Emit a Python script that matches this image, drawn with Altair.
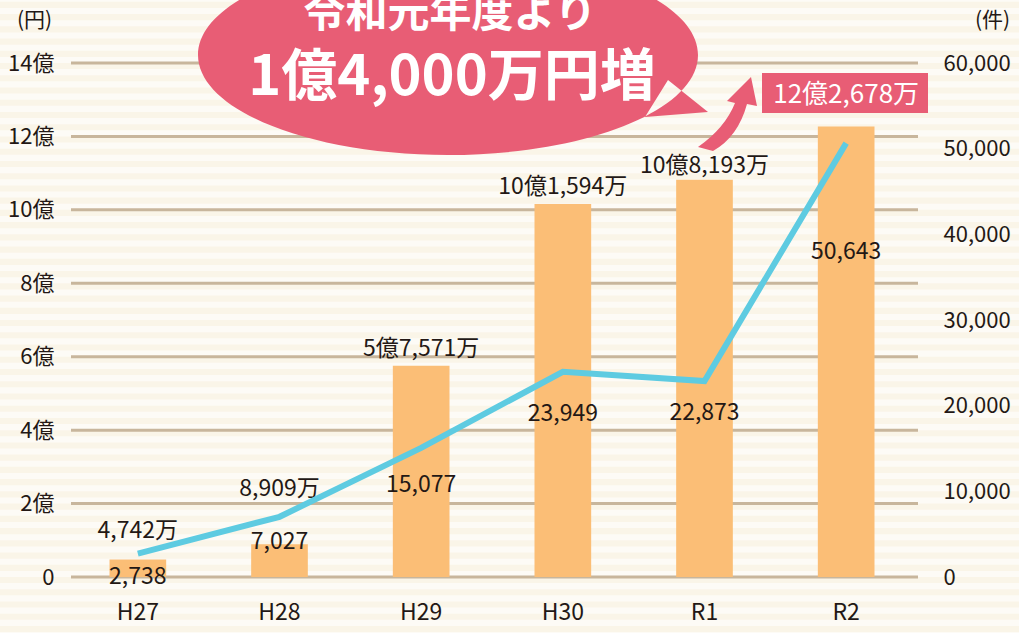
import altair as alt
import pandas as pd

# ---- data ----
years = ["H27", "H28", "H29", "H30", "R1", "R2"]
amount_oku = [0.4742, 0.8909, 5.7571, 10.1594, 10.8193, 12.2678]   # 億円
cases = [2738, 7027, 15077, 23949, 22873, 50643]                   # 件
bar_label_offset = [-29, -55, -17, -17, -14, -32]                   # px (negative = up)
line_label_offset = [23, 25, 37, 42, 32, 109]                       # px (positive = down)

left_ticks = [0, 2, 4, 6, 8, 10, 12, 14]
right_ticks = [0, 10000, 20000, 30000, 40000, 50000, 60000]

bubble_line1 = "令和元年度より"
bubble_line2 = "1億4,000万円増"

FONT = "Noto Sans CJK JP"
TXT = "#231815"
PINK = "#e85d75"
OX = 67  # plot origin x in page pixels
H = 577
FS = 23

LMAX = 14 * H / 514
RMAX = 60000 * H / 514


def oku_label(v):
    man = round(v * 10000)
    oku, rest = divmod(man, 10000)
    return f"{oku}億{rest:,}万" if oku else f"{rest:,}万"


df = pd.DataFrame({
    "year": years,
    "amount": amount_oku,
    "cases": cases,
    "blabel": [oku_label(v) for v in amount_oku],
    "boff": bar_label_offset,
    "llabel": [f"{c:,}" for c in cases],
    "loff": line_label_offset,
})

stripes = pd.DataFrame({"y0": [k / 3 for k in range(-9, 52)]})
stripes["y1"] = stripes["y0"] + 1 / 6
grid = pd.DataFrame({"v": left_ticks})
one = pd.DataFrame({"a": [0]})

xenc = alt.X("year:N", sort=years,
             scale=alt.Scale(paddingInner=0.6, paddingOuter=0.3),
             axis=alt.Axis(title=None, domain=False, ticks=False, labelAngle=0, zindex=2,
                           labelFontSize=FS, labelPadding=24, labelColor=TXT, labelFont=FONT))
lscale = alt.Scale(domain=[0, LMAX], nice=False, zero=False)
rscale = alt.Scale(domain=[0, RMAX], nice=False, zero=False)

left_axis = alt.Axis(values=left_ticks, grid=False, domain=False, ticks=False, zindex=2,
                     labelExpr="datum.value == 0 ? '0' : datum.value + '億'",
                     labelFontSize=FS - 1, labelPadding=13, labelColor=TXT, labelFont=FONT,
                     title="(円)", titleAngle=0, titleX=-33, titleY=20,
                     titleAlign="center", titleBaseline="middle",
                     titleFontSize=21, titleFontWeight="normal", titleColor=TXT, titleFont=FONT)
right_axis = alt.Axis(values=right_ticks, grid=False, domain=False, ticks=False, zindex=2,
                      labelExpr="format(datum.value, ',')",
                      labelAlign="left", labelFontSize=FS - 1, labelPadding=26, labelColor=TXT,
                      labelFont=FONT,
                      title="(件)", titleAngle=0, titleX=75, titleY=20,
                      titleAlign="center", titleBaseline="middle",
                      titleFontSize=21, titleFontWeight="normal", titleColor=TXT, titleFont=FONT)

stripe_layer = alt.Chart(stripes).mark_rect(color="#fdfbf6").encode(
    x=alt.value(-OX), x2=alt.value(1019 - OX),
    y=alt.Y("y0:Q", scale=lscale, axis=left_axis), y2="y1:Q")

grid_layer = alt.Chart(grid).mark_rule(color="#c8b69c", strokeWidth=3).encode(
    x=alt.value(4), x2=alt.value(851), y=alt.Y("v:Q", scale=lscale, axis=left_axis))

bars = alt.Chart(df).mark_bar(color="#fbbe76").encode(
    x=xenc, y=alt.Y("amount:Q", scale=lscale, axis=left_axis))

bubble_path = ("M 198 55 A 250 100 0 1 0 698 55 A 250 100 0 1 0 198 55 Z "
               "M 668 80 L 708 112 L 645 117 Z")
bubble = alt.Chart(one).mark_point(filled=True, opacity=1, strokeWidth=0,
                                   shape=bubble_path, color=PINK).encode(
    x=alt.value(-OX), y=alt.value(0), size=alt.value(4))

arrow_path = ("M 698 147 Q 725 128 735 103 L 727 101 L 751 77 L 757 106 L 747 104 "
              "Q 738 137 713 151 Z")
arrow = alt.Chart(one).mark_point(filled=True, opacity=1, strokeWidth=0,
                                  shape=arrow_path, color=PINK).encode(
    x=alt.value(-OX), y=alt.value(0), size=alt.value(4))

box = alt.Chart(one).mark_rect(color=PINK).encode(
    x=alt.value(762 - OX), x2=alt.value(928 - OX), y=alt.value(73), y2=alt.value(113))

t1 = alt.Chart(one).mark_text(text=bubble_line1, font=FONT, fontSize=42, fontWeight="bold",
                              color="white", align="center", baseline="middle").encode(
    x=alt.value(450 - OX), y=alt.value(14))
t2 = alt.Chart(one).mark_text(text=bubble_line2, font=FONT, fontSize=56, fontWeight="bold",
                              color="white", align="center", baseline="middle").encode(
    x=alt.value(452 - OX), y=alt.value(78))

bar_labels = alt.Chart(df).transform_calculate(
    ly=f"datum.amount - datum.boff * {LMAX / H}"
).mark_text(font=FONT, fontSize=FS, baseline="middle").encode(
    x=xenc, y=alt.Y("ly:Q", scale=lscale, axis=left_axis),
    text="blabel:N",
    size=alt.condition(alt.datum.year == "R2", alt.value(26), alt.value(FS)),
    color=alt.condition(alt.datum.year == "R2", alt.value("white"), alt.value(TXT)))

left = alt.layer(stripe_layer, grid_layer, bars, bubble, arrow, box, t1, t2, bar_labels)

line = alt.Chart(df).mark_line(color="#5ecbe1", strokeWidth=6).encode(
    x=xenc, y=alt.Y("cases:Q", scale=rscale, axis=right_axis))
line_labels = alt.Chart(df).transform_calculate(
    ly=f"datum.cases - datum.loff * {RMAX / H}"
).mark_text(font=FONT, fontSize=FS, color=TXT, baseline="middle").encode(
    x=xenc, y=alt.Y("ly:Q", scale=rscale, axis=right_axis), text="llabel:N")

right = alt.layer(line, line_labels)

chart = alt.layer(left, right).resolve_scale(y="independent").properties(
    width=850, height=H,
    autosize=alt.AutoSizeParams(type="none"),
    padding={"left": OX, "top": 0, "right": 102, "bottom": 56},
    background="#faf5e8",
).configure(font=FONT).configure_view(strokeWidth=0, stroke="transparent")

chart.save("out.html", embed_options={"renderer": "svg", "actions": False})
